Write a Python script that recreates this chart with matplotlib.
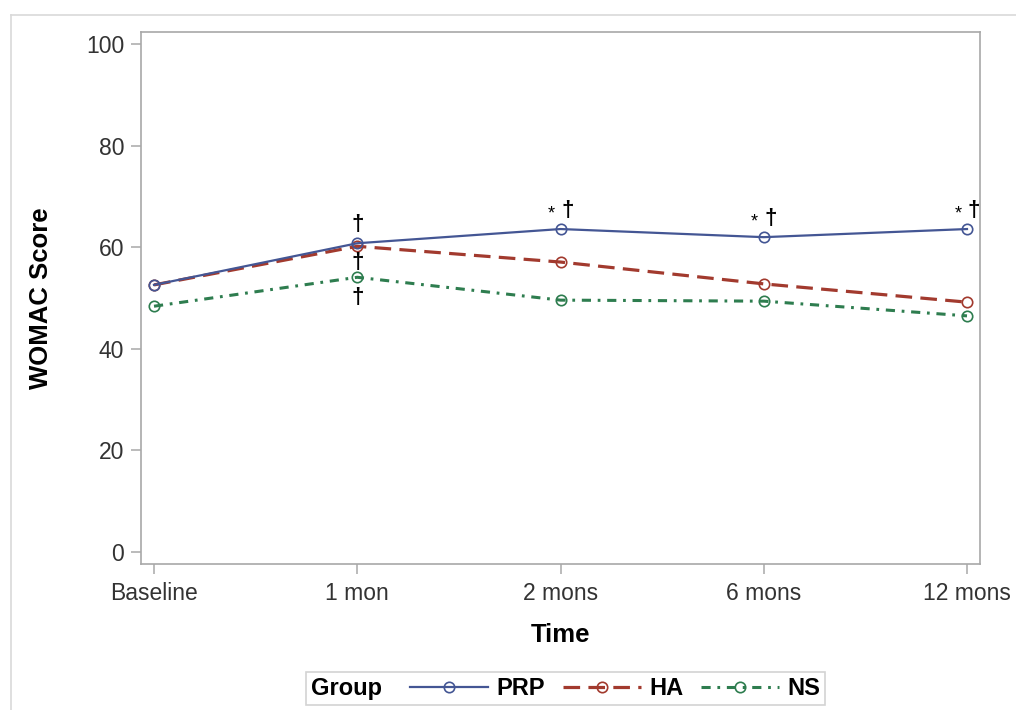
import matplotlib
matplotlib.use("Agg")
import matplotlib.pyplot as plt
from matplotlib.lines import Line2D
from matplotlib.offsetbox import HPacker

plt.rcParams['font.family'] = ['Liberation Sans', 'DejaVu Sans']

time_labels = ["Baseline", "1 mon", "2 mons", "6 mons", "12 mons"]
prp = [52.6, 60.8, 63.6, 62.0, 63.6]
ha = [52.6, 60.2, 57.1, 52.8, 49.2]
ns = [48.4, 54.1, 49.6, 49.4, 46.5]
y_ticks = [0, 20, 40, 60, 80, 100]

# significance marks above PRP for 1 mon .. 12 mons
prp_marks = ["†", "* †", "* †", "* †"]

C_PRP = "#445694"
C_HA = "#A23A2E"
C_NS = "#2E7D4F"

fig = plt.figure(figsize=(10.16, 7.10), dpi=100)
ax = fig.add_axes([141/1016, 1-564/710, (980-141)/1016, (564-32)/710])

x = list(range(len(time_labels)))
ax.plot(x, prp, color=C_PRP, lw=1.6, marker='o', ms=7.5, mfc='none', mew=1.2,
        label="PRP", zorder=4)
ax.plot(x, ha, color=C_HA, lw=2.3, marker='o', ms=7.5, mfc='none', mew=1.2,
        dashes=(5.2, 2.6), label="HA", zorder=3)
ax.plot(x, ns, color=C_NS, lw=2.2, marker='o', ms=7.5, mfc='none', mew=1.2,
        dashes=(3.0, 2.2, 0.9, 2.2), label="NS", zorder=3)

ax.set_xlim(-0.064, 4.064)
ax.set_ylim(-2.36, 102.4)
ax.set_xticks(x)
ax.set_xticklabels(time_labels)
ax.set_yticks(y_ticks)

for s in ax.spines.values():
    s.set_color("#a8a8a8")
    s.set_linewidth(1.2)
ax.tick_params(axis='both', colors="#a8a8a8", labelcolor="#333333",
               labelsize=16.5, length=7, width=1.1)
ax.tick_params(axis='y', pad=5)
ax.tick_params(axis='x', pad=6)
ax.set_xlabel("Time", fontsize=18.5, fontweight='bold', labelpad=13)
ax.set_ylabel("WOMAC Score", fontsize=18.5, fontweight='bold', labelpad=24)

px = 0.72  # points per pixel
mark_kw = dict(textcoords='offset points', ha='center', va='center',
               color='black', fontsize=16, fontweight='bold', zorder=6)
for i, m in enumerate(prp_marks, start=1):
    if m == "†":
        ax.annotate("†", (x[i], prp[i]), xytext=(0, 19*px), **mark_kw)
    else:
        ax.annotate("†", (x[i], prp[i]), xytext=(7*px, 19*px), **mark_kw)
        ax.annotate("*", (x[i], prp[i]), xytext=(-9*px, 15*px),
                    textcoords='offset points', ha='center', va='center',
                    color='black', fontsize=13, zorder=6)
ax.annotate("†", (x[1], ha[1]), xytext=(0, -16*px), **mark_kw)
ax.annotate("†", (x[1], ns[1]), xytext=(0, -20*px), **mark_kw)

fs = 17
leg = fig.legend(loc='center', bbox_to_anchor=(565.5/1016, 1-688.5/710),
                 ncol=3, frameon=True, fancybox=False, edgecolor="#c8c8c8",
                 handlelength=3.3, handletextpad=0.35, columnspacing=0.75,
                 borderpad=0.2, title="Group",
                 prop={'size': fs, 'weight': 'bold'},
                 title_fontproperties={'size': fs, 'weight': 'bold'})
leg.get_frame().set_linewidth(1.2)
for t in leg.get_texts():
    t.set_color('black')
try:
    new_box = HPacker(pad=leg.borderpad * fs, sep=1.2 * fs, align='center',
                      children=[leg._legend_title_box, leg._legend_handle_box])
    new_box.set_figure(fig)
    leg._legend_box = new_box
    leg._set_loc(leg._loc)
except Exception:
    pass

fig.add_artist(Line2D([11/1016, 11/1016], [0, 1-15/710], transform=fig.transFigure,
                      color="#d9d9d9", lw=1.2))
fig.add_artist(Line2D([11/1016, 1], [1-15/710, 1-15/710], transform=fig.transFigure,
                      color="#d9d9d9", lw=1.2))

fig.savefig("out.png", dpi=100)
